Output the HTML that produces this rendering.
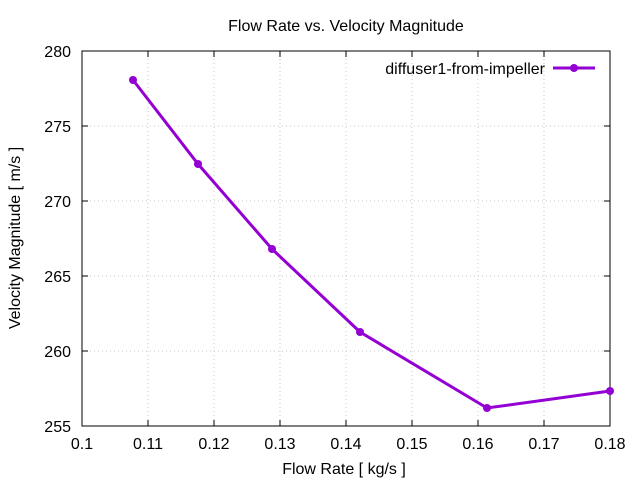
<!DOCTYPE html>
<html><head><style>body{margin:0;background:#fff}svg{display:block}text{font-family:"Liberation Sans",sans-serif;font-size:16px;fill:#000}</style></head>
<body>
<svg width="640" height="480" viewBox="0 0 640 480">
<rect width="640" height="480" fill="#fff"/>
<g stroke="#c8c8c8" stroke-width="1" stroke-dasharray="1,3">
<line x1="148" y1="51" x2="148" y2="426"/><line x1="214" y1="51" x2="214" y2="426"/><line x1="280" y1="51" x2="280" y2="426"/><line x1="346" y1="51" x2="346" y2="426"/><line x1="412" y1="51" x2="412" y2="426"/><line x1="478" y1="51" x2="478" y2="426"/><line x1="544" y1="51" x2="544" y2="426"/>
<line x1="82" y1="126" x2="610" y2="126"/><line x1="82" y1="201" x2="610" y2="201"/><line x1="82" y1="276" x2="610" y2="276"/><line x1="82" y1="351" x2="610" y2="351"/>
</g>
<rect x="82" y="51" width="528" height="375" fill="none" stroke="#000"/>
<g stroke="#000">
<path d="M82 426v-6M148 426v-6M214 426v-6M280 426v-6M346 426v-6M412 426v-6M478 426v-6M544 426v-6M610 426v-6M82 51v6M148 51v6M214 51v6M280 51v6M346 51v6M412 51v6M478 51v6M544 51v6M610 51v6"/>
<path d="M82 51h6M82 126h6M82 201h6M82 276h6M82 351h6M82 426h6M610 51h-6M610 126h-6M610 201h-6M610 276h-6M610 351h-6M610 426h-6"/>
</g>
<g text-anchor="end">
<text x="71" y="57">280</text><text x="71" y="132">275</text><text x="71" y="207">270</text><text x="71" y="282">265</text><text x="71" y="357">260</text><text x="71" y="432">255</text>
</g>
<g text-anchor="middle">
<text x="82" y="449">0.1</text><text x="148" y="449">0.11</text><text x="214" y="449">0.12</text><text x="280" y="449">0.13</text><text x="346" y="449">0.14</text><text x="412" y="449">0.15</text><text x="478" y="449">0.16</text><text x="544" y="449">0.17</text><text x="610" y="449">0.18</text>
<text x="344" y="474">Flow Rate [ kg/s ]</text>
<text x="346" y="31">Flow Rate vs. Velocity Magnitude</text>
<text transform="translate(20,238) rotate(-90)">Velocity Magnitude [ m/s ]</text>
</g>
<text x="545" y="74" text-anchor="end">diffuser1-from-impeller</text>
<g stroke="#9400d3" stroke-width="3" fill="none">
<line x1="553" y1="68" x2="595" y2="68"/>
<polyline points="133,80 198,164 272,249 360,332 487,408 610,391"/>
</g>
<g fill="#9400d3">
<circle cx="574" cy="68" r="4"/>
<circle cx="133" cy="80" r="4"/><circle cx="198" cy="164" r="4"/><circle cx="272" cy="249" r="4"/><circle cx="360" cy="332" r="4"/><circle cx="487" cy="408" r="4"/><circle cx="610" cy="391" r="4"/>
</g>
</svg>
</body></html>
